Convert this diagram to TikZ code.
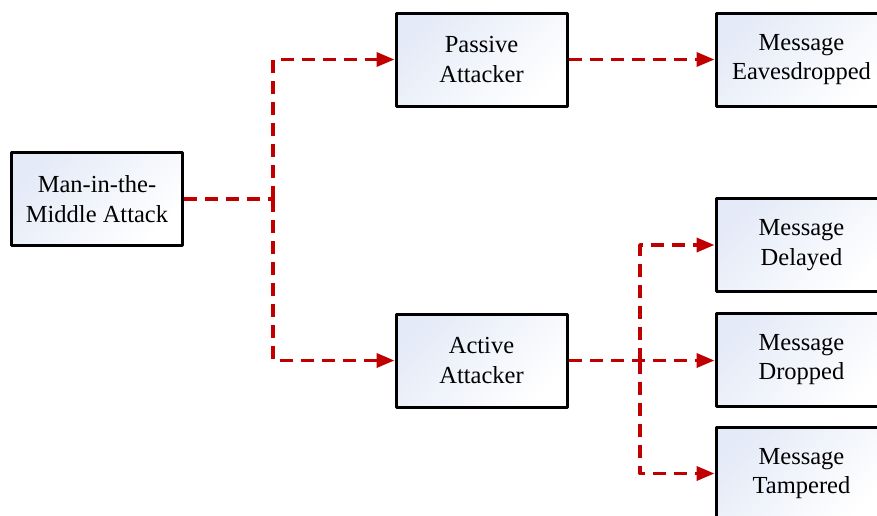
\documentclass[tikz,border=0pt]{standalone}
\usepackage{fontspec}
\setmainfont{Liberation Serif}
\usetikzlibrary{arrows.meta}
\definecolor{linkred}{RGB}{192,0,0}
\definecolor{boxblue}{RGB}{228,234,247}
\begin{document}
\begin{tikzpicture}[x=1pt, y=-1pt, line join=round,
	>={Triangle[length=18pt,width=14pt]},
	box/.style={draw, line width=3pt, minimum width=171pt, minimum height=93pt, inner sep=0pt,
		align=center, font=\fontsize{24.5}{29.5}\selectfont,
		top color=boxblue, bottom color=white, shading angle=45},
	link/.style={linkred, line width=3.6pt, dash pattern=on 13pt off 8pt}]
	\useasboundingbox (0,0) rectangle (877,515);
	\node[box] (mitm) at (97,199) {Man-in-the-\\Middle Attack};
	\node[box] (passive) at (481.5,59.5) {Passive\\Attacker};
	\node[box] (active) at (481.5,360.5) {Active\\Attacker};
	\node[box] (eaves) at (801.5,59.5) {Message\\Eavesdropped};
	\node[box] (delayed) at (801.5,245) {Message\\Delayed};
	\node[box] (dropped) at (801.5,359.5) {Message\\Dropped};
	\node[box] (tampered) at (801.5,473.5) {Message\\Tampered};
	\coordinate (split) at (273,199);
	\coordinate (fan) at (640,360.5);
	\draw[link] (mitm.east) -- (split);
	\draw[link,->] (split) |- (passive.west);
	\draw[link,->] (split) |- (active.west);
	\draw[link,->] (passive.east) -- (eaves.west);
	\draw[link,->] (active.east) -- (active.east -| dropped.west);
	\draw[link,->] (fan) |- (delayed.west);
	\draw[link,->] (fan) |- (tampered.west);
\end{tikzpicture}
\end{document}
